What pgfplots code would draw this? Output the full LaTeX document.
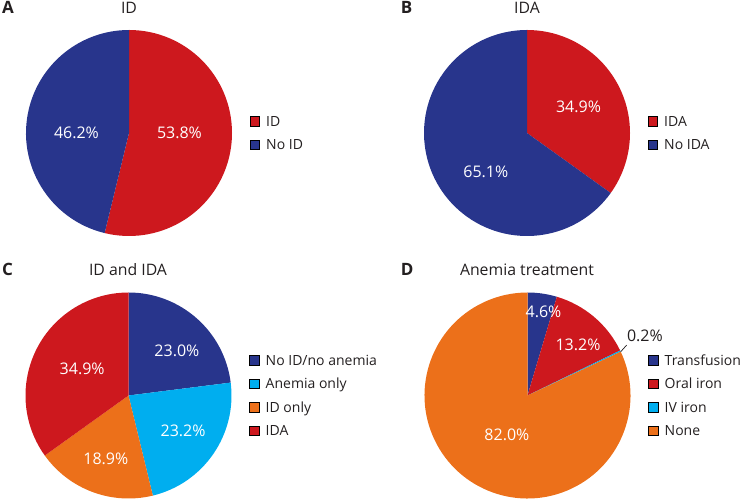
\documentclass[border=0pt]{standalone}
\usepackage{pgfplots}
\usepackage{pgfplotstable}
\pgfplotsset{compat=1.18}
\usepackage{fontspec}
\setmainfont{Open Sans}
\definecolor{pieRed}{RGB}{205,24,30}
\definecolor{pieNavy}{RGB}{40,53,140}
\definecolor{pieCyan}{RGB}{0,174,239}
\definecolor{pieOrange}{RGB}{236,112,26}
\definecolor{txt}{RGB}{35,31,32}
\newcommand{\pielabelfont}{\fontsize{16bp}{19bp}\selectfont}
\newcommand{\titlefont}{\fontsize{15.8bp}{18bp}\selectfont}
\newcommand{\legfont}{\fontsize{14bp}{16bp}\selectfont}
\newcommand{\letterfont}{\fontsize{17bp}{19bp}\selectfont\bfseries}
\pgfkeys{/pgf/number format/assume math mode=true}

% value, label position (axis units), slice colour, label colour
\pgfplotstableread{
v lx ly c tc
53.8 0.49 0.00 pieRed white
46.2 -0.51 0.00 pieNavy white
}\tabA
\pgfplotstableread{
v lx ly c tc
34.9 0.50 0.25 pieRed white
65.1 -0.40 -0.38 pieNavy white
}\tabB
\pgfplotstableread{
v lx ly c tc
23.0 0.47 0.43 pieNavy white
23.2 0.53 -0.34 pieCyan white
18.9 -0.22 -0.61 pieOrange white
34.9 -0.45 0.26 pieRed white
}\tabC
\pgfplotstableread{
v lx ly c tc
4.6 0.155 0.81 pieNavy white
13.2 0.49 0.49 pieRed white
0.2 1.14 0.578 pieCyan txt
82.0 -0.20 -0.38 pieOrange white
}\tabD

\newcommand{\drawpie}[1]{%
  \pgfplotstablegetrowsof{#1}%
  \pgfmathtruncatemacro\nrows{\pgfplotsretval-1}%
  \def\cumul{0}%
  \pgfplotsforeachungrouped \i in {0,...,\nrows}{%
    \pgfplotstablegetelem{\i}{v}\of{#1}\let\val\pgfplotsretval
    \pgfplotstablegetelem{\i}{c}\of{#1}\let\col\pgfplotsretval
    \pgfmathsetmacro\sa{90-3.6*\cumul}%
    \pgfmathsetmacro\ea{90-3.6*(\cumul+\val)}%
    \edef\tmp{\noexpand\fill[\col] (axis cs:0,0) -- ++(\sa:103bp) arc[start angle=\sa, end angle=\ea, radius=103bp] -- cycle;}%
    \tmp
    \pgfmathsetmacro\cumul{\cumul+\val}%
  }%
  \pgfplotsforeachungrouped \i in {0,...,\nrows}{%
    \pgfplotstablegetelem{\i}{v}\of{#1}\let\val\pgfplotsretval
    \pgfplotstablegetelem{\i}{lx}\of{#1}\let\lx\pgfplotsretval
    \pgfplotstablegetelem{\i}{ly}\of{#1}\let\ly\pgfplotsretval
    \pgfplotstablegetelem{\i}{tc}\of{#1}\let\tc\pgfplotsretval
    \edef\tmp{\noexpand\node[text=\tc, font=\noexpand\pielabelfont, inner sep=0pt] at (axis cs:\lx,\ly) {\noexpand\pgfmathprintnumber[fixed,fixed zerofill,precision=1]{\val}\noexpand\%};}%
    \tmp
  }%
}

\pgfplotsset{
  pieaxis/.style={
    scale only axis, width=206bp, height=206bp,
    xmin=-1, xmax=1, ymin=-1, ymax=1,
    hide axis, anchor=center, clip=false,
    legend cell align=left,
    legend style={draw=none, fill=none, at={(1.087,0.5)}, anchor=west,
      font=\legfont, text=txt, inner sep=0pt, outer sep=0pt,
      row sep=13.6bp, column sep=6.7bp,
      nodes={inner sep=0pt, text height=9.8bp, text depth=0bp}},
    legend image code/.code={\fill[##1] (0bp,-4.8bp) rectangle (9.2bp,4.8bp);},
  }
}

\begin{document}
\begin{tikzpicture}
\path[use as bounding box] (0,0) rectangle (740bp,500bp);

% A
\begin{axis}[pieaxis, at={(129bp,367bp)}]
\drawpie{\tabA}
\addlegendimage{fill=pieRed}
\addlegendimage{fill=pieNavy}
\legend{ID, No ID}
\end{axis}

% B
\begin{axis}[pieaxis, at={(527bp,367bp)}]
\drawpie{\tabB}
\addlegendimage{fill=pieRed}
\addlegendimage{fill=pieNavy}
\legend{IDA, No IDA}
\end{axis}

% C
\begin{axis}[pieaxis, at={(128.5bp,104.5bp)}]
\drawpie{\tabC}
\addlegendimage{fill=pieNavy}
\addlegendimage{fill=pieCyan}
\addlegendimage{fill=pieOrange}
\addlegendimage{fill=pieRed}
\legend{No ID/no anemia, Anemia only, ID only, IDA}
\end{axis}

% D
\begin{axis}[pieaxis, at={(527.5bp,104.5bp)}]
\drawpie{\tabD}
\draw[txt, line width=0.7bp] (axis cs:0.905,0.425) -- (axis cs:0.963,0.49);
\addlegendimage{fill=pieNavy}
\addlegendimage{fill=pieRed}
\addlegendimage{fill=pieCyan}
\addlegendimage{fill=pieOrange}
\legend{Transfusion, Oral iron, IV iron, None}
\end{axis}

% titles
\node[anchor=base, font=\titlefont, text=txt, inner sep=0pt] at (129bp,486.7bp) {ID};
\node[anchor=base, font=\titlefont, text=txt, inner sep=0pt] at (527bp,486.7bp) {IDA};
\node[anchor=base, font=\titlefont, text=txt, inner sep=0pt] at (128bp,224bp) {ID and IDA};
\node[anchor=base, font=\titlefont, text=txt, inner sep=0pt] at (527bp,224bp) {Anemia treatment};
% panel letters
\node[anchor=base west, font=\letterfont, text=txt, inner sep=0pt] at (2bp,486.7bp) {A};
\node[anchor=base west, font=\letterfont, text=txt, inner sep=0pt] at (400.7bp,486.7bp) {B};
\node[anchor=base west, font=\letterfont, text=txt, inner sep=0pt] at (2bp,224bp) {C};
\node[anchor=base west, font=\letterfont, text=txt, inner sep=0pt] at (400.7bp,224bp) {D};
\end{tikzpicture}
\end{document}
